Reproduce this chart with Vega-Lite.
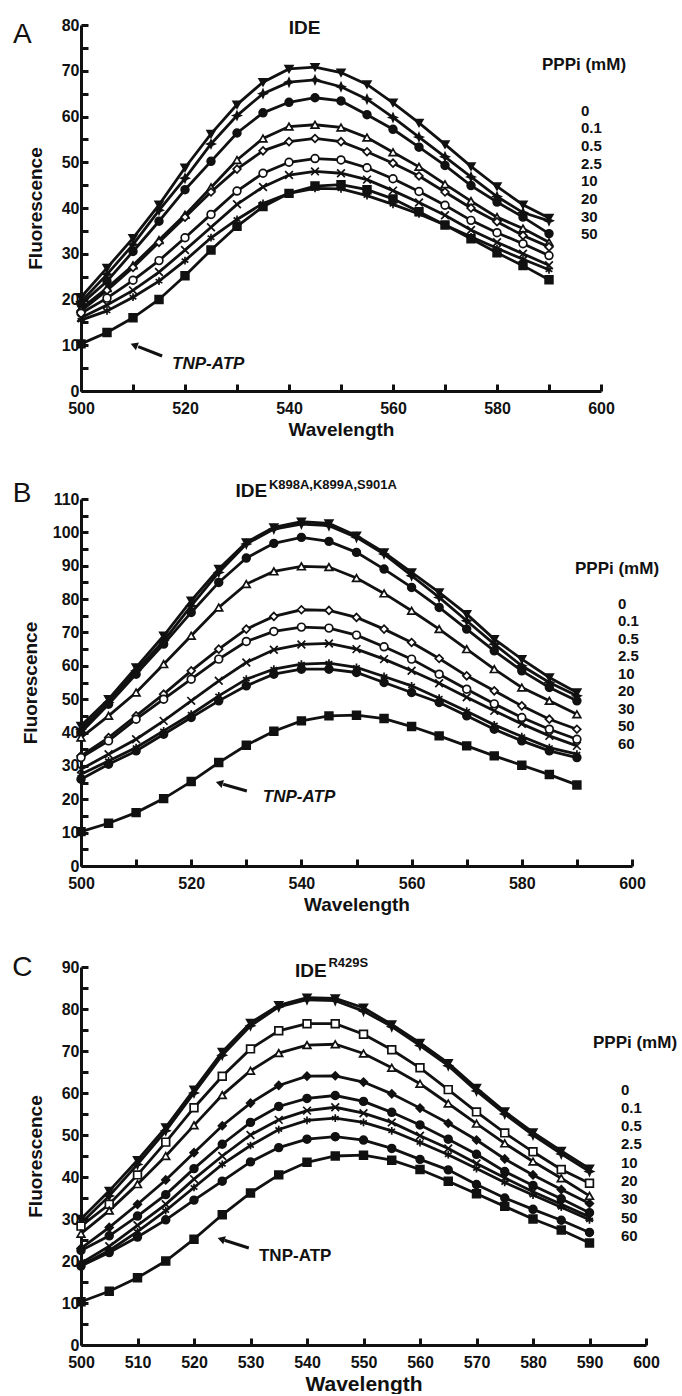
{
"$schema":"https://vega.github.io/schema/vega-lite/v6.json",
"background":"white",
"padding":{"left":12,"top":17,"right":0,"bottom":0},
"columns":1,
"align":"none",
"spacing":39,
"resolve":{"scale":{"x":"independent","y":"independent","shape":"independent","fill":"independent"},"legend":{"shape":"independent","fill":"independent"}},
"config":{
 "view":{"stroke":null},
 "font":"Liberation Sans",
 "axis":{"domainColor":"#111","domainWidth":3,"tickColor":"#111","tickWidth":3,"tickSize":7,"labelFont":"Liberation Sans","labelFontWeight":"bold","labelFontSize":16,"labelColor":"#111","titleFont":"Liberation Sans","titleFontWeight":"bold","titleColor":"#111","grid":false,"labelOverlap":false,"labelFlush":false},
 "legend":{"titleFont":"Liberation Sans","titleFontWeight":"bold","titleFontSize":17,"titleColor":"#111","labelFont":"Liberation Sans","labelFontWeight":"bold","labelFontSize":15,"labelColor":"#111","symbolSize":0,"symbolOpacity":0,"symbolStrokeWidth":0,"rowPadding":1.7,"direction":"vertical","orient":"none"}
},
"datasets":{
"A":[
{"w":500,"P0":20.5,"P0_1":19.5,"P0_5":19,"P2_5":18,"P10":17.5,"P20":17,"P30":16,"P50":15.5,"TNP":10.3},
{"w":505,"P0":26.9,"P0_1":25.5,"P0_5":24,"P2_5":22.5,"P10":22,"P20":20.3,"P30":18.8,"P50":17.5,"TNP":12.8},
{"w":510,"P0":33.4,"P0_1":32,"P0_5":30.5,"P2_5":27.5,"P10":27,"P20":24.2,"P30":22,"P50":20.5,"TNP":16},
{"w":515,"P0":40.7,"P0_1":39.5,"P0_5":37.1,"P2_5":33,"P10":32.5,"P20":28.5,"P30":26,"P50":24,"TNP":20},
{"w":520,"P0":48.8,"P0_1":46.5,"P0_5":44,"P2_5":38.5,"P10":38,"P20":33.5,"P30":30.8,"P50":28.5,"TNP":25.2},
{"w":525,"P0":56.2,"P0_1":54,"P0_5":50.2,"P2_5":44.5,"P10":43.5,"P20":38.6,"P30":35.8,"P50":33.5,"TNP":30.8},
{"w":530,"P0":62.6,"P0_1":60.2,"P0_5":56.4,"P2_5":50.5,"P10":48.5,"P20":43.7,"P30":40.8,"P50":37.5,"TNP":36},
{"w":535,"P0":67.5,"P0_1":65,"P0_5":60.8,"P2_5":55.2,"P10":52.5,"P20":47.6,"P30":44.6,"P50":41,"TNP":40.3},
{"w":540,"P0":70.4,"P0_1":67.5,"P0_5":63.1,"P2_5":57.8,"P10":54.5,"P20":50,"P30":47.2,"P50":43.2,"TNP":43.2},
{"w":545,"P0":70.8,"P0_1":68,"P0_5":64.1,"P2_5":58.2,"P10":55.2,"P20":50.8,"P30":48,"P50":44.3,"TNP":44.8},
{"w":550,"P0":69.6,"P0_1":66.5,"P0_5":63.4,"P2_5":57.6,"P10":54.5,"P20":50.5,"P30":47.6,"P50":44.2,"TNP":45.1},
{"w":555,"P0":67,"P0_1":63.8,"P0_5":60.4,"P2_5":55.4,"P10":52.3,"P20":48.8,"P30":46.2,"P50":42.7,"TNP":44},
{"w":560,"P0":63,"P0_1":59.8,"P0_5":57.2,"P2_5":52.2,"P10":49.8,"P20":46.4,"P30":43.8,"P50":40.8,"TNP":42},
{"w":565,"P0":58.6,"P0_1":55.5,"P0_5":53.3,"P2_5":49,"P10":47,"P20":43.6,"P30":41.2,"P50":38.7,"TNP":39.2},
{"w":570,"P0":53.9,"P0_1":51.2,"P0_5":49.3,"P2_5":45.2,"P10":43.5,"P20":40.6,"P30":38.4,"P50":36.3,"TNP":36.3},
{"w":575,"P0":49.1,"P0_1":46.8,"P0_5":44.9,"P2_5":41.5,"P10":40,"P20":37.3,"P30":35.2,"P50":33.7,"TNP":33.3},
{"w":580,"P0":44.7,"P0_1":42.5,"P0_5":41.3,"P2_5":38,"P10":37,"P20":34.6,"P30":32.5,"P50":31.2,"TNP":30.2},
{"w":585,"P0":40.7,"P0_1":39,"P0_5":38,"P2_5":35.5,"P10":34,"P20":32.2,"P30":30,"P50":28.8,"TNP":27.4},
{"w":590,"P0":37.8,"P0_1":37.2,"P0_5":34.4,"P2_5":32.5,"P10":31.5,"P20":29.6,"P30":27.5,"P50":26.5,"TNP":24.3}
],
"B":[
{"w":500,"P0":42,"P0_1":41,"P0_5":40,"P2_5":38.5,"P10":33,"P20":32.5,"P30":29,"P50":27.5,"P60":26,"TNP":10.3},
{"w":505,"P0":50,"P0_1":49,"P0_5":48.5,"P2_5":45,"P10":38.5,"P20":37.5,"P30":33.5,"P50":31.5,"P60":30.5,"TNP":12.8},
{"w":510,"P0":59.5,"P0_1":58.5,"P0_5":57.5,"P2_5":52,"P10":45,"P20":44,"P30":38,"P50":35.5,"P60":34.5,"TNP":16},
{"w":515,"P0":69,"P0_1":67.5,"P0_5":66.5,"P2_5":60.5,"P10":51.5,"P20":50,"P30":43.5,"P50":40.5,"P60":39.5,"TNP":20.2},
{"w":520,"P0":79.5,"P0_1":78,"P0_5":76,"P2_5":69,"P10":58.5,"P20":56,"P30":49.5,"P50":45.5,"P60":44.5,"TNP":25.3},
{"w":525,"P0":89,"P0_1":88,"P0_5":85,"P2_5":77.5,"P10":65,"P20":62,"P30":55.5,"P50":51,"P60":49.5,"TNP":31},
{"w":530,"P0":97,"P0_1":96.5,"P0_5":92.3,"P2_5":84.5,"P10":71,"P20":67.3,"P30":61,"P50":56,"P60":54,"TNP":36.2},
{"w":535,"P0":101.5,"P0_1":101,"P0_5":96.7,"P2_5":88.3,"P10":74.8,"P20":70.3,"P30":64.8,"P50":59,"P60":57.5,"TNP":40.4},
{"w":540,"P0":103.2,"P0_1":102.5,"P0_5":98.5,"P2_5":89.8,"P10":76.8,"P20":71.6,"P30":66.4,"P50":60.5,"P60":59,"TNP":43.5},
{"w":545,"P0":102.7,"P0_1":102,"P0_5":97.3,"P2_5":89.6,"P10":76.6,"P20":71.3,"P30":66.7,"P50":60.8,"P60":59,"TNP":45},
{"w":550,"P0":99,"P0_1":98.5,"P0_5":94,"P2_5":86.3,"P10":74.5,"P20":69.2,"P30":65,"P50":59.5,"P60":58,"TNP":45.2},
{"w":555,"P0":94,"P0_1":93.5,"P0_5":89,"P2_5":81.7,"P10":71,"P20":65.7,"P30":62,"P50":56.8,"P60":55,"TNP":44.2},
{"w":560,"P0":88,"P0_1":87,"P0_5":83.5,"P2_5":76.5,"P10":67,"P20":62,"P30":58.5,"P50":54,"P60":52,"TNP":41.8},
{"w":565,"P0":82,"P0_1":80.5,"P0_5":77.5,"P2_5":71,"P10":62.2,"P20":57.5,"P30":54.8,"P50":50.3,"P60":49,"TNP":39},
{"w":570,"P0":75.5,"P0_1":73.5,"P0_5":71,"P2_5":65,"P10":57,"P20":53,"P30":50.6,"P50":46.4,"P60":45,"TNP":36},
{"w":575,"P0":68,"P0_1":66.5,"P0_5":64.5,"P2_5":59,"P10":52.5,"P20":48.6,"P30":46.5,"P50":42.3,"P60":41,"TNP":33},
{"w":580,"P0":62,"P0_1":60,"P0_5":58.5,"P2_5":53.5,"P10":48,"P20":44.5,"P30":42.6,"P50":38.8,"P60":37.5,"TNP":30.2},
{"w":585,"P0":56.5,"P0_1":55,"P0_5":53.5,"P2_5":49.5,"P10":44,"P20":41,"P30":39,"P50":35.5,"P60":34.5,"TNP":27.4},
{"w":590,"P0":52,"P0_1":51,"P0_5":49.5,"P2_5":45.5,"P10":41,"P20":38,"P30":36,"P50":33.5,"P60":32.5,"TNP":24.3}
],
"C":[
{"w":500,"P0":30,"P0_1":29,"P0_5":28.3,"P2_5":26.5,"P10":23,"P20":22.5,"P30":19.5,"P50":19,"P60":18.8,"TNP":10.3},
{"w":505,"P0":36.7,"P0_1":35.5,"P0_5":33.5,"P2_5":32,"P10":28,"P20":26,"P30":23.5,"P50":22.5,"P60":22,"TNP":12.8},
{"w":510,"P0":44,"P0_1":43,"P0_5":40.5,"P2_5":38.3,"P10":33.5,"P20":30.7,"P30":28.5,"P50":27,"P60":25.7,"TNP":16},
{"w":515,"P0":51.8,"P0_1":51,"P0_5":48.3,"P2_5":45,"P10":39.3,"P20":35.8,"P30":33.5,"P50":32,"P60":29.8,"TNP":20},
{"w":520,"P0":60.8,"P0_1":60,"P0_5":56.5,"P2_5":52.3,"P10":45.8,"P20":42,"P30":39.5,"P50":37.5,"P60":34.5,"TNP":25.2},
{"w":525,"P0":69.8,"P0_1":69,"P0_5":64,"P2_5":59.5,"P10":52.2,"P20":47.8,"P30":45,"P50":43,"P60":39,"TNP":31},
{"w":530,"P0":76.7,"P0_1":76,"P0_5":70.5,"P2_5":65.3,"P10":57.6,"P20":53,"P30":50,"P50":47.5,"P60":43.6,"TNP":36.2},
{"w":535,"P0":80.9,"P0_1":80.5,"P0_5":74.8,"P2_5":69.5,"P10":61.8,"P20":56.8,"P30":53.6,"P50":51.3,"P60":47,"TNP":40.5},
{"w":540,"P0":82.7,"P0_1":82.2,"P0_5":76.5,"P2_5":71.4,"P10":64,"P20":58.7,"P30":55.8,"P50":53.5,"P60":49,"TNP":43.5},
{"w":545,"P0":82.5,"P0_1":82,"P0_5":76.5,"P2_5":71.6,"P10":64.1,"P20":59.4,"P30":56.6,"P50":54,"P60":49.6,"TNP":45},
{"w":550,"P0":80.3,"P0_1":79.5,"P0_5":74,"P2_5":69.4,"P10":62.6,"P20":58,"P30":55.2,"P50":53,"P60":48.8,"TNP":45.2},
{"w":555,"P0":76.3,"P0_1":75.8,"P0_5":70.3,"P2_5":66,"P10":59.8,"P20":55.4,"P30":53,"P50":51,"P60":46.8,"TNP":44},
{"w":560,"P0":71.9,"P0_1":71.3,"P0_5":66,"P2_5":62.2,"P10":56.4,"P20":52.4,"P30":49.8,"P50":48.2,"P60":44.2,"TNP":41.8},
{"w":565,"P0":67.1,"P0_1":66.5,"P0_5":60.8,"P2_5":57.5,"P10":52.8,"P20":49,"P30":46.8,"P50":45.3,"P60":41.7,"TNP":39},
{"w":570,"P0":61.2,"P0_1":60.5,"P0_5":55.5,"P2_5":52.7,"P10":48.8,"P20":45.4,"P30":43.2,"P50":42,"P60":38.2,"TNP":36},
{"w":575,"P0":55.6,"P0_1":55,"P0_5":50.5,"P2_5":48,"P10":44.3,"P20":41.3,"P30":39.8,"P50":38.7,"P60":35,"TNP":33},
{"w":580,"P0":50.6,"P0_1":50,"P0_5":46,"P2_5":43.7,"P10":40.5,"P20":38,"P30":36.5,"P50":35.7,"P60":32.3,"TNP":30},
{"w":585,"P0":46.2,"P0_1":45.5,"P0_5":41.8,"P2_5":39.7,"P10":37,"P20":34.8,"P30":33.5,"P50":32.8,"P60":29.7,"TNP":27.4},
{"w":590,"P0":42,"P0_1":41.3,"P0_5":38.5,"P2_5":35.5,"P10":33.7,"P20":31.5,"P30":30.5,"P50":29.8,"P60":26.8,"TNP":24.3}
]
},
"concat":[
{
 "width":520,"height":366,
 "resolve":{"axis":{"x":"independent","y":"independent"}},
 "layer":[
  {"data":{"name":"A"},
   "transform":[{"fold":["P0","P0_1","P0_5","P2_5","P10","P20","P30","P50","TNP"],"as":["s","f"]}],
   "mark":{"type":"line","color":"#111","strokeWidth":2.8},
   "encoding":{
    "x":{"field":"w","type":"quantitative","title":"Wavelength","scale":{"domain":[500,600],"nice":false,"zero":false},
         "axis":{"orient":"bottom","values":[500,520,540,560,580,600],"ticks":false,"labelPadding":9,"titleFontSize":19,"titlePadding":4}},
    "y":{"field":"f","type":"quantitative","title":"Fluorescence","scale":{"domain":[0,80],"nice":false},
         "axis":{"orient":"left","values":[0,10,20,30,40,50,60,70,80],"ticks":false,"labelPadding":2,"titleFontSize":19,"titlePadding":16}},
    "detail":{"field":"s"}}},
  {"data":{"name":"A"},
   "transform":[{"fold":["P0","P0_1","P0_5","P2_5","P10","P20","P30","P50","TNP"],"as":["s","f"]}],
   "mark":{"type":"point","filled":true,"stroke":"#111","strokeWidth":1.7,"size":60,"opacity":1},
   "encoding":{
    "x":{"field":"w","type":"quantitative","axis":{"orient":"top","offset":-366,"values":[500,510,520,530,540,550,560,570,580,590,600],"labels":false,"domain":false,"title":null,"ticks":true}},
    "y":{"field":"f","type":"quantitative","axis":{"orient":"right","offset":-520,"values":[0,5,10,15,20,25,30,35,40,45,50,55,60,65,70,75,80],"labels":false,"domain":false,"title":null,"ticks":true}},
    "shape":{"field":"s","type":"nominal","scale":{"domain":["P0","P0_1","P0_5","P2_5","P10","P20","P30","P50","TNP"],"range":["triangle-down","M0,-1L0.3,-0.3L1,0L0.3,0.3L0,1L-0.3,0.3L-1,0L-0.3,-0.3Z","circle","triangle-up","diamond","circle","M-1,-1L1,1M-1,1L1,-1","M0,-1L0,1M-0.87,-0.5L0.87,0.5M-0.87,0.5L0.87,-0.5","square"]},
      "legend":{"title":"PPPi (mM)","values":["P0","P0_1","P0_5","P2_5","P10","P20","P30","P50"],"labelExpr":"replace(slice(datum.label,1),'_','.')","legendX":461,"legendY":32,"titlePadding":29,"labelOffset":24}},
    "fill":{"field":"s","type":"nominal","legend":null,"scale":{"domain":["P0","P0_1","P0_5","P2_5","P10","P20","P30","P50","TNP"],"range":["#111","#111","#111","white","white","white","#111","#111","#111"]}}}},
  {"data":{"values":[{}]},"mark":{"type":"text","fontSize":28,"fontWeight":"normal","color":"#111","align":"center","baseline":"middle"},
   "encoding":{"x":{"datum":488.7,"type":"quantitative","axis":null},"y":{"datum":77.8,"type":"quantitative","axis":null},"text":{"value":"A"}}},
  {"data":{"values":[{}]},"mark":{"type":"text","fontSize":19,"fontWeight":"bold","color":"#111","align":"center","baseline":"middle"},
   "encoding":{"x":{"datum":543,"type":"quantitative","axis":null},"y":{"datum":79.3,"type":"quantitative","axis":null},"text":{"value":"IDE"}}},
  {"data":{"values":[{}]},"mark":{"type":"text","fontSize":17,"fontWeight":"bold","fontStyle":"italic","color":"#111","align":"left","baseline":"middle"},
   "encoding":{"x":{"datum":517.5,"type":"quantitative","axis":null},"y":{"datum":5.9,"type":"quantitative","axis":null},"text":{"value":"TNP-ATP"}}},
  {"data":{"values":[{}]},"mark":{"type":"rule","color":"#111","strokeWidth":3},
   "encoding":{"x":{"datum":515.6,"type":"quantitative","axis":null},"y":{"datum":7.65,"type":"quantitative","axis":null},"x2":{"datum":511},"y2":{"datum":9.7}}},
  {"data":{"values":[{}]},"mark":{"type":"point","shape":"triangle-left","filled":true,"color":"#111","size":70,"opacity":1,"angle":21},
   "encoding":{"x":{"datum":510.2,"type":"quantitative","axis":null},"y":{"datum":10.05,"type":"quantitative","axis":null}}}
 ]
},
{
 "width":551,"height":367,
 "resolve":{"axis":{"x":"independent","y":"independent"}},
 "layer":[
  {"data":{"name":"B"},
   "transform":[{"fold":["P0","P0_1","P0_5","P2_5","P10","P20","P30","P50","P60","TNP"],"as":["s","f"]}],
   "mark":{"type":"line","color":"#111","strokeWidth":2.8},
   "encoding":{
    "x":{"field":"w","type":"quantitative","title":"Wavelength","scale":{"domain":[500,600],"nice":false,"zero":false},
         "axis":{"orient":"bottom","values":[500,520,540,560,580,600],"ticks":false,"labelPadding":9,"titleFontSize":19,"titlePadding":4}},
    "y":{"field":"f","type":"quantitative","title":"Fluorescence","scale":{"domain":[0,110],"nice":false},
         "axis":{"orient":"left","values":[0,10,20,30,40,50,60,70,80,90,100,110],"ticks":false,"labelPadding":2,"titleFontSize":19,"titlePadding":12}},
    "detail":{"field":"s"}}},
  {"data":{"name":"B"},
   "transform":[{"fold":["P0","P0_1","P0_5","P2_5","P10","P20","P30","P50","P60","TNP"],"as":["s","f"]}],
   "mark":{"type":"point","filled":true,"stroke":"#111","strokeWidth":1.7,"size":60,"opacity":1},
   "encoding":{
    "x":{"field":"w","type":"quantitative","axis":{"orient":"top","offset":-367,"values":[500,510,520,530,540,550,560,570,580,590,600],"labels":false,"domain":false,"title":null,"ticks":true}},
    "y":{"field":"f","type":"quantitative","axis":{"orient":"right","offset":-551,"values":[0,5,10,15,20,25,30,35,40,45,50,55,60,65,70,75,80,85,90,95,100,105,110],"labels":false,"domain":false,"title":null,"ticks":true}},
    "shape":{"field":"s","type":"nominal","scale":{"domain":["P0","P0_1","P0_5","P2_5","P10","P20","P30","P50","P60","TNP"],"range":["triangle-down","M0,-1L0.3,-0.3L1,0L0.3,0.3L0,1L-0.3,0.3L-1,0L-0.3,-0.3Z","circle","triangle-up","diamond","circle","M-1,-1L1,1M-1,1L1,-1","M0,-1L0,1M-0.87,-0.5L0.87,0.5M-0.87,0.5L0.87,-0.5","circle","square"]},
      "legend":{"title":"PPPi (mM)","values":["P0","P0_1","P0_5","P2_5","P10","P20","P30","P50","P60"],"labelExpr":"replace(slice(datum.label,1),'_','.')","legendX":494,"legendY":62,"titlePadding":18,"labelOffset":28,"rowPadding":1.55}},
    "fill":{"field":"s","type":"nominal","legend":null,"scale":{"domain":["P0","P0_1","P0_5","P2_5","P10","P20","P30","P50","P60","TNP"],"range":["#111","#111","#111","white","white","white","#111","#111","#111","#111"]}}}},
  {"data":{"values":[{}]},"mark":{"type":"text","fontSize":28,"fontWeight":"normal","color":"#111","align":"center","baseline":"middle"},
   "encoding":{"x":{"datum":489.3,"type":"quantitative","axis":null},"y":{"datum":111.4,"type":"quantitative","axis":null},"text":{"value":"B"}}},
  {"data":{"values":[{}]},"mark":{"type":"text","fontSize":19,"fontWeight":"bold","color":"#111","align":"right","baseline":"middle"},
   "encoding":{"x":{"datum":533.8,"type":"quantitative","axis":null},"y":{"datum":112.4,"type":"quantitative","axis":null},"text":{"value":"IDE"}}},
  {"data":{"values":[{}]},"mark":{"type":"text","fontSize":13,"fontWeight":"bold","color":"#111","align":"left","baseline":"middle"},
   "encoding":{"x":{"datum":534.1,"type":"quantitative","axis":null},"y":{"datum":114.2,"type":"quantitative","axis":null},"text":{"value":"K898A,K899A,S901A"}}},
  {"data":{"values":[{}]},"mark":{"type":"text","fontSize":17,"fontWeight":"bold","fontStyle":"italic","color":"#111","align":"left","baseline":"middle"},
   "encoding":{"x":{"datum":533,"type":"quantitative","axis":null},"y":{"datum":20.7,"type":"quantitative","axis":null},"text":{"value":"TNP-ATP"}}},
  {"data":{"values":[{}]},"mark":{"type":"rule","color":"#111","strokeWidth":3},
   "encoding":{"x":{"datum":530.1,"type":"quantitative","axis":null},"y":{"datum":22.5,"type":"quantitative","axis":null},"x2":{"datum":525.8},"y2":{"datum":24.5}}},
  {"data":{"values":[{}]},"mark":{"type":"point","shape":"triangle-left","filled":true,"color":"#111","size":70,"opacity":1,"angle":16},
   "encoding":{"x":{"datum":525.1,"type":"quantitative","axis":null},"y":{"datum":24.85,"type":"quantitative","axis":null}}}
 ]
},
{
 "width":565,"height":378,
 "resolve":{"axis":{"x":"independent","y":"independent"}},
 "layer":[
  {"data":{"name":"C"},
   "transform":[{"fold":["P0","P0_1","P0_5","P2_5","P10","P20","P30","P50","P60","TNP"],"as":["s","f"]}],
   "mark":{"type":"line","color":"#111","strokeWidth":2.8},
   "encoding":{
    "x":{"field":"w","type":"quantitative","title":"Wavelength","scale":{"domain":[500,600],"nice":false,"zero":false},
         "axis":{"orient":"bottom","values":[500,510,520,530,540,550,560,570,580,590,600],"ticks":false,"labelPadding":9,"titleFontSize":21,"titlePadding":3}},
    "y":{"field":"f","type":"quantitative","title":"Fluorescence","scale":{"domain":[0,90],"nice":false},
         "axis":{"orient":"left","values":[0,10,20,30,40,50,60,70,80,90],"ticks":false,"labelPadding":2,"titleFontSize":19,"titlePadding":16}},
    "detail":{"field":"s"}}},
  {"data":{"name":"C"},
   "transform":[{"fold":["P0","P0_1","P0_5","P2_5","P10","P20","P30","P50","P60","TNP"],"as":["s","f"]}],
   "mark":{"type":"point","filled":true,"stroke":"#111","strokeWidth":1.7,"size":60,"opacity":1},
   "encoding":{
    "x":{"field":"w","type":"quantitative","axis":{"orient":"top","offset":-378,"values":[500,510,520,530,540,550,560,570,580,590,600],"labels":false,"domain":false,"title":null,"ticks":true}},
    "y":{"field":"f","type":"quantitative","axis":{"orient":"right","offset":-565,"values":[0,5,10,15,20,25,30,35,40,45,50,55,60,65,70,75,80,85,90],"labels":false,"domain":false,"title":null,"ticks":true}},
    "shape":{"field":"s","type":"nominal","scale":{"domain":["P0","P0_1","P0_5","P2_5","P10","P20","P30","P50","P60","TNP"],"range":["triangle-down","M0,-1L0.3,-0.3L1,0L0.3,0.3L0,1L-0.3,0.3L-1,0L-0.3,-0.3Z","square","triangle-up","diamond","circle","M-1,-1L1,1M-1,1L1,-1","M0,-1L0,1M-0.87,-0.5L0.87,0.5M-0.87,0.5L0.87,-0.5","circle","square"]},
      "legend":{"title":"PPPi (mM)","values":["P0","P0_1","P0_5","P2_5","P10","P20","P30","P50","P60"],"labelExpr":"replace(slice(datum.label,1),'_','.')","legendX":512,"legendY":68,"titlePadding":30,"labelOffset":13,"rowPadding":2.3}},
    "fill":{"field":"s","type":"nominal","legend":null,"scale":{"domain":["P0","P0_1","P0_5","P2_5","P10","P20","P30","P50","P60","TNP"],"range":["#111","#111","white","white","#111","#111","#111","#111","#111","#111"]}}}},
  {"data":{"values":[{}]},"mark":{"type":"text","fontSize":28,"fontWeight":"normal","color":"#111","align":"center","baseline":"middle"},
   "encoding":{"x":{"datum":489.6,"type":"quantitative","axis":null},"y":{"datum":89.8,"type":"quantitative","axis":null},"text":{"value":"C"}}},
  {"data":{"values":[{}]},"mark":{"type":"text","fontSize":19,"fontWeight":"bold","color":"#111","align":"right","baseline":"middle"},
   "encoding":{"x":{"datum":543.5,"type":"quantitative","axis":null},"y":{"datum":89,"type":"quantitative","axis":null},"text":{"value":"IDE"}}},
  {"data":{"values":[{}]},"mark":{"type":"text","fontSize":13,"fontWeight":"bold","color":"#111","align":"left","baseline":"middle"},
   "encoding":{"x":{"datum":543.8,"type":"quantitative","axis":null},"y":{"datum":91,"type":"quantitative","axis":null},"text":{"value":"R429S"}}},
  {"data":{"values":[{}]},"mark":{"type":"text","fontSize":17,"fontWeight":"bold","color":"#111","align":"left","baseline":"middle"},
   "encoding":{"x":{"datum":531.5,"type":"quantitative","axis":null},"y":{"datum":21.2,"type":"quantitative","axis":null},"text":{"value":"TNP-ATP"}}},
  {"data":{"values":[{}]},"mark":{"type":"rule","color":"#111","strokeWidth":3},
   "encoding":{"x":{"datum":529.7,"type":"quantitative","axis":null},"y":{"datum":23.1,"type":"quantitative","axis":null},"x2":{"datum":525.4},"y2":{"datum":24.95}}},
  {"data":{"values":[{}]},"mark":{"type":"point","shape":"triangle-left","filled":true,"color":"#111","size":70,"opacity":1,"angle":18},
   "encoding":{"x":{"datum":524.8,"type":"quantitative","axis":null},"y":{"datum":25.2,"type":"quantitative","axis":null}}}
 ]
}
]
}
